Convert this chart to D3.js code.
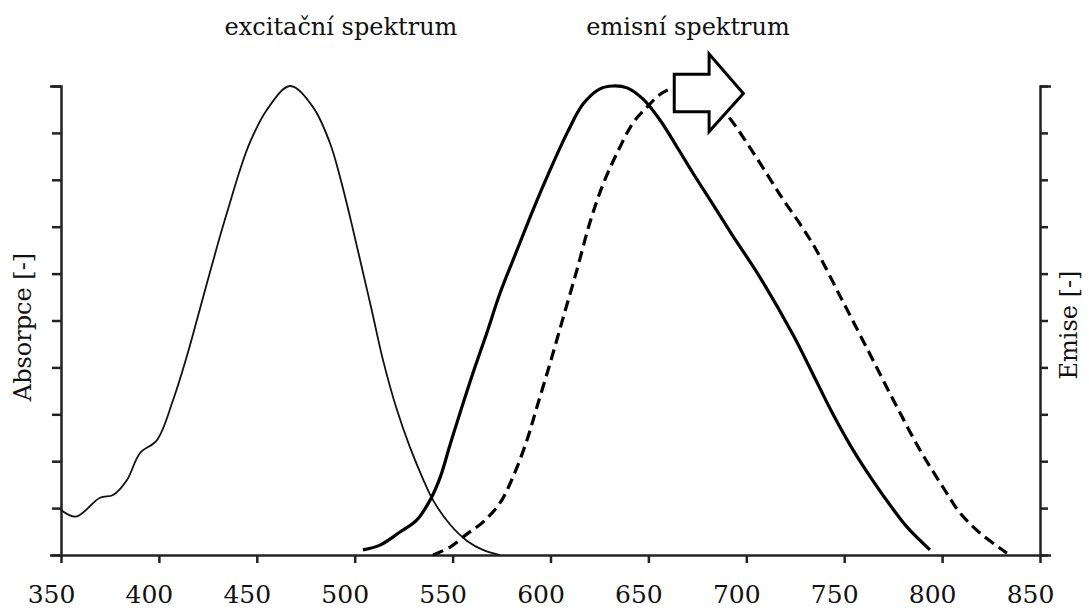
<!DOCTYPE html>
<html>
<head>
<meta charset="utf-8">
<script src="https://cdn.jsdelivr.net/npm/d3@7"></script>
<style>
  body { margin: 0; background: #fff; }
  svg text { font-family: "DejaVu Serif", serif; fill: #111; }
</style>
</head>
<body>
<svg id="chart" width="1089" height="610"></svg>
<script>
// wavelength [nm] / normalized intensity
const excWave = [350, 357.7, 369.9, 376.6, 383.7, 390.3, 399, 407.2, 414, 420, 430.2, 436.3, 441.4, 446.5, 455.1, 467, 478.7, 487.4, 492.5, 497.6, 502.7, 508.7, 514.5, 521.6, 528.2, 534.9, 540, 548.7, 557.4, 565.5, 574.2];
const excVal  = [0.096, 0.082, 0.122, 0.128, 0.160, 0.217, 0.245, 0.330, 0.420, 0.510, 0.665, 0.751, 0.821, 0.880, 0.949, 1.0, 0.955, 0.878, 0.806, 0.721, 0.630, 0.522, 0.415, 0.309, 0.230, 0.162, 0.117, 0.065, 0.030, 0.011, 0.0];

const emWave = [504.2, 512.9, 523.1, 531.8, 538.5, 543.6, 548.7, 553.8, 560.4, 567.6, 574.2, 582.9, 591.1, 599.8, 608.5, 616.7, 625.3, 632, 639.1, 647.3, 656, 664.6, 672.8, 681.5, 693.2, 707, 723.8, 734.1, 744.3, 754.5, 764.7, 774.9, 782, 793.8];
const emVal  = [0.011, 0.021, 0.049, 0.075, 0.117, 0.165, 0.235, 0.303, 0.388, 0.475, 0.558, 0.650, 0.736, 0.821, 0.900, 0.962, 0.994, 1.0, 0.996, 0.972, 0.927, 0.870, 0.814, 0.757, 0.680, 0.592, 0.470, 0.385, 0.300, 0.224, 0.158, 0.098, 0.060, 0.011];

const shiftWave = [540, 548.7, 557.4, 565.5, 574.2, 580.8, 588, 593.1, 599.8, 606.4, 613.5, 620.2, 626.8, 634, 642.1, 649.3, 655.9, 662, 671.2, 681.5, 691.7, 700.4, 710.6, 718.8, 727.4, 735.1, 747.9, 761.7, 774.9, 788.7, 800.4, 809.1, 819.3, 833.1];
const shiftVal  = [0.0, 0.017, 0.045, 0.070, 0.111, 0.166, 0.245, 0.316, 0.409, 0.505, 0.608, 0.710, 0.790, 0.857, 0.921, 0.955, 0.982, 0.995, 1.0, 0.975, 0.930, 0.878, 0.812, 0.758, 0.706, 0.655, 0.552, 0.440, 0.332, 0.224, 0.145, 0.090, 0.047, 0.004];

const xTicks = [350, 400, 450, 500, 550, 600, 650, 700, 750, 800, 850];
const titles = ["excitační spektrum", "emisní spektrum"];

// arrow showing the shift (nm, value)
const arrowPts = [
  [663.2, 1.025], [681, 1.025], [681, 1.068], [698.5, 0.984],
  [681, 0.903], [681, 0.945], [663.2, 0.945]
];

const svg = d3.select("#chart");

const x = d3.scaleLinear().domain([350, 850]).range([61, 1040]);
const y = d3.scaleLinear().domain([0, 1]).range([555, 86]);

const zip = (a, b) => a.map((d, i) => [d, b[i]]);

const line = d3.line()
    .x(d => x(d[0]))
    .y(d => y(d[1]))
    .curve(d3.curveCatmullRom.alpha(0.5));

// Axes
const axisColor = "#222";

const gx = svg.append("g")
    .attr("transform", `translate(0,${y(0)})`)
    .call(d3.axisBottom(x).tickValues(xTicks).tickSize(8).tickSizeOuter(0).tickPadding(22));

gx.selectAll("text")
    .attr("dx", -10)
    .style("font-size", "25px")
    .style("font-family", "DejaVu Serif");

const gl = svg.append("g")
    .attr("transform", `translate(${x(350)},0)`)
    .call(d3.axisLeft(y).ticks(10).tickFormat("").tickSize(9).tickSizeOuter(11));

const gr = svg.append("g")
    .attr("transform", `translate(${x(850)},0)`)
    .call(d3.axisRight(y).ticks(10).tickFormat("").tickSize(8).tickSizeOuter(11));

[gx, gl, gr].forEach(g => {
  g.select(".domain").attr("stroke", axisColor).attr("stroke-width", 2.5);
  g.selectAll(".tick line").attr("stroke", axisColor).attr("stroke-width", 2.5);
});

// Curves
svg.append("path")
    .attr("d", line(zip(excWave, excVal)))
    .attr("fill", "none")
    .attr("stroke", "#111")
    .attr("stroke-width", 1.8);

svg.append("path")
    .attr("d", line(zip(shiftWave, shiftVal)))
    .attr("fill", "none")
    .attr("stroke", "#000")
    .attr("stroke-width", 3.2)
    .attr("stroke-dasharray", "11,6");

svg.append("path")
    .attr("d", line(zip(emWave, emVal)))
    .attr("fill", "none")
    .attr("stroke", "#000")
    .attr("stroke-width", 3.2);

// Arrow
svg.append("path")
    .attr("d", d3.line().x(d => x(d[0])).y(d => y(d[1]))(arrowPts) + "Z")
    .attr("fill", "#fff")
    .attr("stroke", "#000")
    .attr("stroke-width", 3)
    .attr("stroke-linejoin", "miter");

// Titles
svg.append("text")
    .attr("x", 341)
    .attr("y", 35)
    .attr("text-anchor", "middle")
    .style("font-size", "24px")
    .text(titles[0]);

svg.append("text")
    .attr("x", 688)
    .attr("y", 35)
    .attr("text-anchor", "middle")
    .style("font-size", "24px")
    .text(titles[1]);

// Axis labels
svg.append("text")
    .attr("transform", `translate(31,327) rotate(-90)`)
    .attr("text-anchor", "middle")
    .style("font-size", "24px")
    .text("Absorpce [-]");

svg.append("text")
    .attr("transform", `translate(1077,325) rotate(-90)`)
    .attr("text-anchor", "middle")
    .style("font-size", "24px")
    .text("Emise [-]");
</script>
</body>
</html>
